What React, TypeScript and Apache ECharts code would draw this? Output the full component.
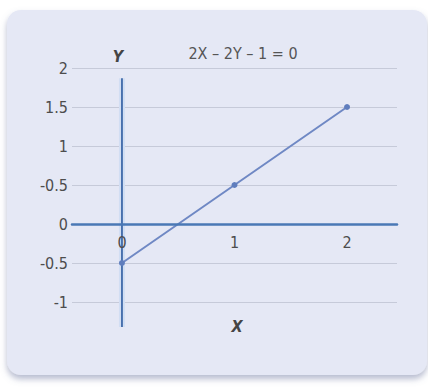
import React, { useEffect, useRef } from "react";
import * as echarts from "echarts";

const linePoints: [number, number][] = [
  [0, -0.5],
  [1, 0.5],
  [2, 1.5],
];
const xTickValues = [0, 1, 2];
const xTickLabels = ["0", "1", "2"];
const yTickValues = [-1, -0.5, 0, 0.5, 1, 1.5, 2];
const yTickLabels = ["-1", "-0.5", "0", "-0.5", "1", "1.5", "2"];
const yAxisLineExtent: [number, number][] = [
  [0, 1.87],
  [0, -1.32],
];
const equation = "2X – 2Y – 1 = 0";

const FONT = '"DejaVu Sans Condensed", "Liberation Sans Narrow", "Open Sans", sans-serif';

export default function App() {
  const ref = useRef<HTMLDivElement>(null);
  useEffect(() => {
    if (!ref.current) return;
    const chart = echarts.init(ref.current, null, { renderer: "svg" });
    chart.setOption({
      animation: false,
      backgroundColor: "#ffffff",
      graphic: [
        {
          type: "rect",
          z: -100,
          silent: true,
          shape: { x: 7, y: 10, width: 420, height: 365, r: 14 },
          style: {
            fill: "#e5e8f5",
            shadowColor: "rgba(110,120,160,0.5)",
            shadowBlur: 6,
            shadowOffsetY: 4,
          },
        },
      ],
      title: [
        {
          text: equation,
          left: 238,
          top: 40,
          textAlign: "center",
          textStyle: { fontFamily: FONT, fontSize: 16, fontWeight: "normal", color: "#555" },
        },
        {
          text: "Y",
          left: 113,
          top: 43,
          textAlign: "center",
          textStyle: { fontFamily: FONT, fontSize: 16, fontWeight: "bold", fontStyle: "italic", color: "#444" },
        },
        {
          text: "X",
          left: 232,
          top: 313,
          textAlign: "center",
          textStyle: { fontFamily: FONT, fontSize: 16, fontWeight: "bold", fontStyle: "italic", color: "#444" },
        },
      ],
      grid: { left: 72, top: 68, width: 325, height: 234, containLabel: false },
      xAxis: {
        type: "value",
        min: -0.444,
        max: 2.444,
        position: "bottom",
        offset: -78,
        z: 10,
        axisLine: { show: true, onZero: false, lineStyle: { color: "#4a78b5", width: 2.5 } },
        axisTick: { show: false },
        splitLine: { show: false },
        axisLabel: {
          customValues: xTickValues,
          formatter: (v: number) => xTickLabels[xTickValues.indexOf(v)] ?? "",
          fontFamily: FONT,
          fontSize: 16,
          color: "#4d4d4d",
          margin: 10,
        },
      },
      yAxis: {
        type: "value",
        min: -1,
        max: 2,
        interval: 0.5,
        axisLine: { show: false },
        axisTick: { show: false },
        splitLine: { show: true, lineStyle: { color: "#c6cad9", width: 1 } },
        axisLabel: {
          formatter: (v: number) => {
            const i = yTickValues.findIndex((t) => Math.abs(t - v) < 1e-6);
            return i >= 0 ? yTickLabels[i] : "";
          },
          fontFamily: FONT,
          fontSize: 16,
          color: "#4d4d4d",
          margin: 4,
        },
      },
      series: [
        {
          type: "line",
          data: yAxisLineExtent,
          clip: false,
          symbol: "none",
          lineStyle: { color: "#d2def3", width: 6 },
          z: 1,
          silent: true,
        },
        {
          type: "line",
          data: yAxisLineExtent,
          clip: false,
          symbol: "none",
          lineStyle: { color: "#3f69a8", width: 1.8 },
          z: 2,
          silent: true,
        },
        {
          type: "line",
          data: linePoints,
          symbol: "circle",
          symbolSize: 6,
          itemStyle: { color: "#5f7dbd" },
          lineStyle: { color: "#6f88c4", width: 2 },
          z: 3,
        },
      ],
    });
    return () => chart.dispose();
  }, []);
  return <div ref={ref} style={{ position: "fixed", left: 0, top: 0, width: 428, height: 390 }} />;
}
